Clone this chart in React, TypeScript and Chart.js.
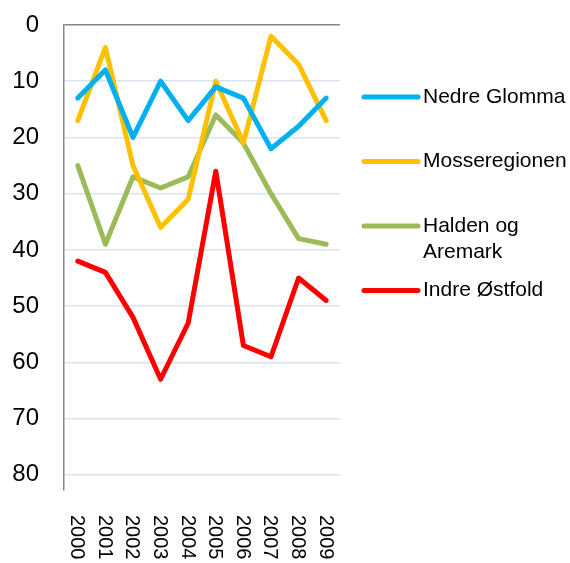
import React, { useEffect, useRef } from "react";
import { Chart, registerables } from "chart.js";

Chart.register(...registerables);

const years = ["2000", "2001", "2002", "2003", "2004", "2005", "2006", "2007", "2008", "2009"];
const seriesNames = ["Nedre Glomma", "Mosseregionen", "Halden og Aremark", "Indre Østfold"];
const nedreGlomma = [13, 8, 20, 10, 17, 11, 13, 22, 18, 13];
const mosseregionen = [17, 4, 25, 36, 31, 10, 21, 2, 7, 17];
const haldenAremark = [25, 39, 27, 29, 27, 16, 21, 30, 38, 39];
const indreOstfold = [42, 44, 52, 63, 53, 26, 57, 59, 45, 49];
const seriesColors = ["#00B0F0", "#FFC000", "#9BBB59", "#FF0000"];
const yTicks = [0, 10, 20, 30, 40, 50, 60, 70, 80];

const FONT = "'Liberation Sans', Arial, sans-serif";

const xLabelPlugin = {
  id: "xLabelsRotated",
  afterDraw(chart: any) {
    const ctx = chart.ctx;
    const xs = chart.scales.x;
    ctx.save();
    ctx.font = `20px ${FONT}`;
    ctx.fillStyle = "#000";
    ctx.textAlign = "left";
    ctx.textBaseline = "middle";
    chart.data.labels.forEach((lab: string, i: number) => {
      const x = xs.getPixelForValue(i);
      ctx.save();
      ctx.translate(x - 1, chart.chartArea.bottom + 25);
      ctx.rotate(Math.PI / 2);
      ctx.fillText(lab, 0, 0);
      ctx.restore();
    });
    ctx.restore();
  },
};

const legendPlugin = {
  id: "sideLegend",
  afterDraw(chart: any) {
    const ctx = chart.ctx;
    const x0 = chart.chartArea.right + 24;
    const lineLen = 54;
    const textX = x0 + lineLen + 5;
    const maxW = 150;
    ctx.save();
    ctx.font = `21px ${FONT}`;
    ctx.textBaseline = "middle";
    ctx.textAlign = "left";
    chart.data.datasets.forEach((ds: any, i: number) => {
      const y = 97 + i * 64.5;
      ctx.strokeStyle = ds.borderColor;
      ctx.lineWidth = 5;
      ctx.lineCap = "round";
      ctx.beginPath();
      ctx.moveTo(x0, y);
      ctx.lineTo(x0 + lineLen, y);
      ctx.stroke();
      const words = String(ds.label).split(" ");
      const lines: string[] = [];
      let cur = "";
      words.forEach((w) => {
        const t = cur ? cur + " " + w : w;
        if (ctx.measureText(t).width > maxW && cur) {
          lines.push(cur);
          cur = w;
        } else cur = t;
      });
      if (cur) lines.push(cur);
      ctx.fillStyle = "#000";
      lines.forEach((ln, k) => ctx.fillText(ln, textX, y + k * 26));
    });
    ctx.restore();
  },
};

export default function App() {
  const ref = useRef<HTMLCanvasElement>(null);
  useEffect(() => {
    if (!ref.current) return;
    const values = [nedreGlomma, mosseregionen, haldenAremark, indreOstfold];
    const chart = new Chart(ref.current, {
      type: "line",
      data: {
        labels: years,
        datasets: seriesNames.map((n, i) => ({
          label: n,
          data: values[i],
          borderColor: seriesColors[i],
          backgroundColor: seriesColors[i],
          borderWidth: 5,
          pointRadius: 0,
          tension: 0,
          borderCapStyle: "round",
          borderJoinStyle: "round",
          fill: false,
        })),
      },
      options: {
        animation: false,
        responsive: false,
        maintainAspectRatio: false,
        layout: { padding: { top: 25, right: 230, left: 0, bottom: 0 } },
        plugins: { legend: { display: false }, tooltip: { enabled: false } },
        scales: {
          x: {
            offset: true,
            grid: { display: false },
            border: { display: false },
            ticks: { display: false },
            afterFit(scale: any) {
              scale.height = 73;
            },
          },
          y: {
            reverse: true,
            min: 0,
            max: 82.7,
            afterBuildTicks(scale: any) {
              scale.ticks = yTicks.map((v) => ({ value: v }));
            },
            afterFit(scale: any) {
              scale.width = 64;
              scale.paddingTop = 0;
              scale.paddingBottom = 0;
            },
            ticks: {
              padding: 25,
              color: "#000",
              font: { family: FONT, size: 24 },
            },
            grid: {
              drawTicks: false,
              color: (c: any) => (c.tick && c.tick.value === 0 ? "#868686" : "#D9E2F0"),
              lineWidth: 1.5,
            },
            border: { display: true, color: "#868686", width: 1.5 },
          },
        },
      },
      plugins: [xLabelPlugin, legendPlugin],
    });
    return () => chart.destroy();
  }, []);
  return (
    <div style={{ position: "fixed", left: 0, top: 0, width: 570, height: 563, background: "#fff" }}>
      <canvas ref={ref} width={570} height={563} style={{ width: 570, height: 563 }} />
    </div>
  );
}
